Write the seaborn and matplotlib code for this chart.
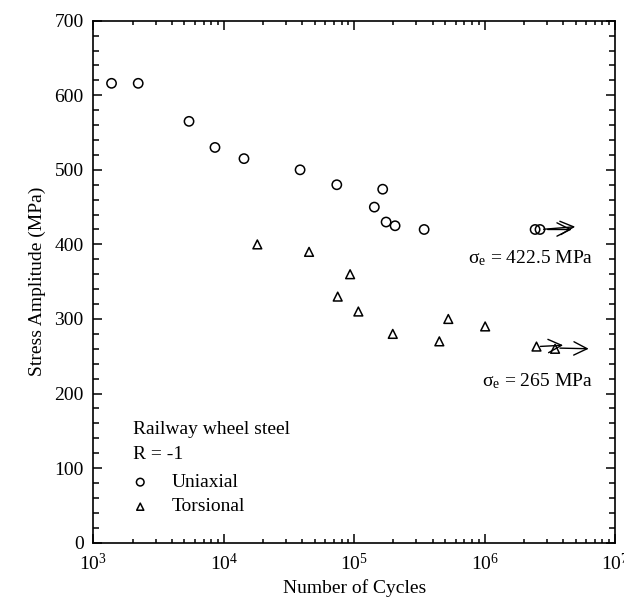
import numpy as np
import pandas as pd
import matplotlib
matplotlib.use("Agg")
import matplotlib.pyplot as plt
import seaborn as sns
from matplotlib.ticker import LogLocator, MultipleLocator, NullFormatter

# ---- data ----
uni_cycles = [1380, 2210, 5420, 8570, 14300, 38500, 73600, 165500, 142800, 175800, 206000, 344000]
uni_stress = [616, 616, 565, 530, 515, 500, 480, 474, 450, 430, 425, 420]
uni_runout_cycles = [2.44e6, 2.66e6]
uni_runout_stress = [420, 420]

tor_cycles = [18100, 45100, 93100, 74800, 107700, 197700, 527000, 449800, 1.01e6]
tor_stress = [400, 390, 360, 330, 310, 280, 300, 270, 290]
tor_runout_cycles = [2.5e6, 3.47e6]
tor_runout_stress = [263, 260]

uni_label = "Uniaxial"
tor_label = "Torsional"
title_lines = ["Railway wheel steel", "R = -1"]
endurance_labels = ["σ$_{\\mathrm{e}}$ = 422.5 MPa", "σ$_{\\mathrm{e}}$ = 265 MPa"]

df = pd.DataFrame({
    "N": uni_cycles + uni_runout_cycles + tor_cycles + tor_runout_cycles,
    "S": uni_stress + uni_runout_stress + tor_stress + tor_runout_stress,
    "type": [uni_label] * (len(uni_cycles) + len(uni_runout_cycles))
            + [tor_label] * (len(tor_cycles) + len(tor_runout_cycles)),
})

sns.set_style("ticks")
plt.rcParams["font.family"] = ["Liberation Serif", "DejaVu Serif"]
plt.rcParams["mathtext.fontset"] = "custom"
plt.rcParams["mathtext.rm"] = "Liberation Serif"
plt.rcParams["mathtext.it"] = "Liberation Serif:italic"
plt.rcParams["mathtext.bf"] = "Liberation Serif:bold"
plt.rcParams["text.color"] = "black"
plt.rcParams["axes.labelcolor"] = "black"
plt.rcParams["xtick.color"] = "black"
plt.rcParams["ytick.color"] = "black"

fig = plt.figure(figsize=(6.24, 6.08), dpi=100)
ax = fig.add_axes([0.1495, 0.1074, 0.9856 - 0.1495, 0.966 - 0.1074])

for lab, mk, sz in [(uni_label, "o", 45), (tor_label, "^", 40)]:
    sub = df[df["type"] == lab]
    sns.scatterplot(data=sub, x="N", y="S", ax=ax, marker=mk, s=sz,
                    facecolors="none", edgecolors="black", linewidths=1.1,
                    legend=False, zorder=3)

ax.set_xscale("log")
ax.set_xlim(1e3, 1e7)
ax.set_ylim(0, 700)
ax.xaxis.set_major_locator(LogLocator(base=10, numticks=10))
ax.xaxis.set_minor_locator(LogLocator(base=10, subs=np.arange(2, 10), numticks=20))
ax.xaxis.set_minor_formatter(NullFormatter())
ax.yaxis.set_major_locator(MultipleLocator(100))
ax.yaxis.set_minor_locator(MultipleLocator(20))

for s in ax.spines.values():
    s.set_linewidth(1.2)
    s.set_color("black")
    s.set_visible(True)
ax.tick_params(which="both", direction="in", top=True, right=True, colors="black",
               labelcolor="black", width=1.1)
ax.tick_params(which="major", length=6.5, labelsize=14, pad=7)
ax.tick_params(which="minor", length=3.2)
ax.tick_params(axis="y", which="minor", length=4)

ax.set_xlabel("Number of Cycles", fontsize=14, labelpad=4, color="black")
ax.set_ylabel("Stress Amplitude (MPa)", fontsize=14, labelpad=6, color="black")

# run-out arrows
arrow_kw = dict(arrowstyle="->", color="black", lw=1.0, mutation_scale=24)
ax.annotate("", xy=(5.2e6, 424), xytext=(2.7e6, 420), arrowprops=arrow_kw)
ax.annotate("", xy=(4.9e6, 420), xytext=(2.9e6, 420), arrowprops=arrow_kw)
ax.annotate("", xy=(4.2e6, 265), xytext=(2.55e6, 263), arrowprops=arrow_kw)
ax.annotate("", xy=(6.6e6, 260), xytext=(3.6e6, 261), arrowprops=arrow_kw)

ax.text(6.8e6, 381, endurance_labels[0], fontsize=14, ha="right", va="center", color="black")
ax.text(6.7e6, 217, endurance_labels[1], fontsize=14, ha="right", va="center", color="black")

# in-plot legend
ax.text(0.077, 0.216, title_lines[0], transform=ax.transAxes, fontsize=14, va="center", color="black")
ax.text(0.077, 0.168, title_lines[1], transform=ax.transAxes, fontsize=14, va="center", color="black")
ax.scatter([0.09], [0.116], transform=ax.transAxes,
           marker="o", s=30, facecolors="none", edgecolors="black", linewidths=1.1, clip_on=False)
ax.scatter([0.09], [0.069], transform=ax.transAxes,
           marker="^", s=26, facecolors="none", edgecolors="black", linewidths=1.1, clip_on=False)
ax.text(0.15, 0.116, uni_label, transform=ax.transAxes, fontsize=14, va="center", color="black")
ax.text(0.15, 0.069, tor_label, transform=ax.transAxes, fontsize=14, va="center", color="black")

fig.savefig("out.png", dpi=100)
